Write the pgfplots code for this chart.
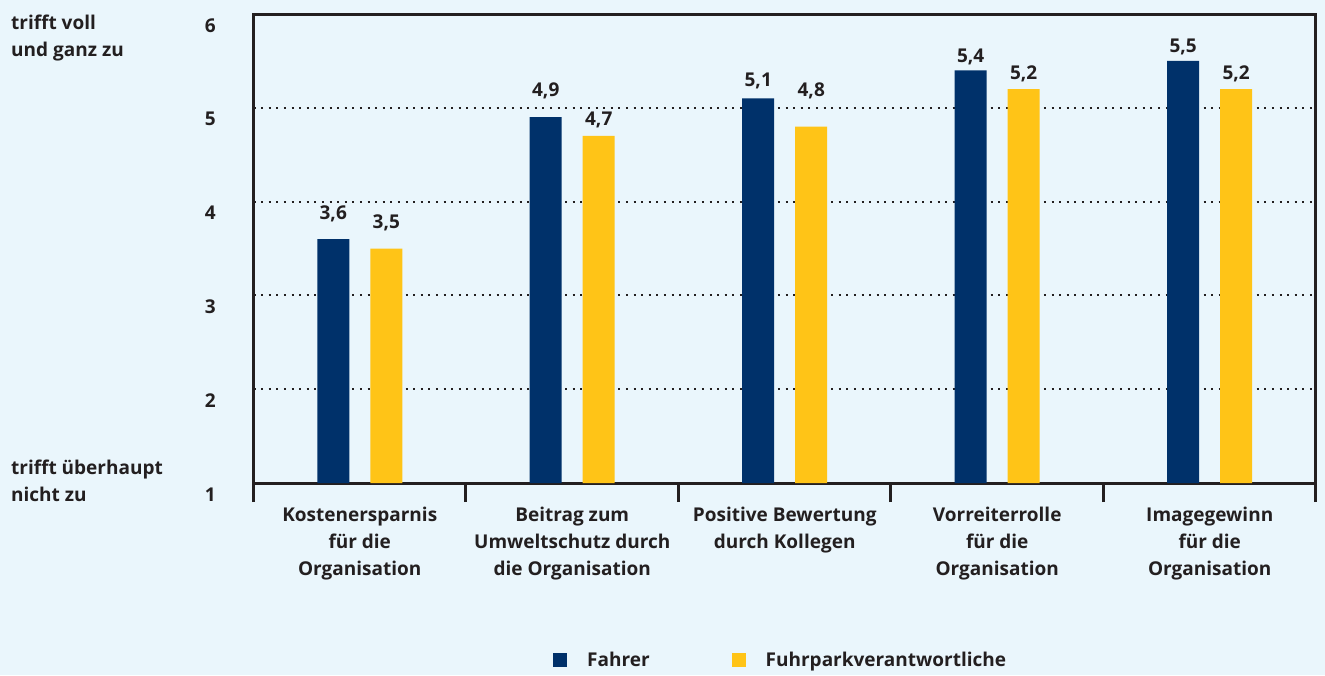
\documentclass[border=0pt]{standalone}
\usepackage{pgfplots}
\usepackage{pgfplotstable}
\pgfplotsset{compat=1.18}
\usepackage{fontspec}
\setmainfont{Open Sans}
\definecolor{bg}{HTML}{EAF6FC}
\definecolor{navy}{HTML}{00316A}
\definecolor{gold}{HTML}{FFC417}
\definecolor{txt}{HTML}{231F20}
\pgfplotstableread{
x y off
0 3.6 20
1 4.9 21
2 5.1 12
3 5.4 8
4 5.5 8
}\fahrer
\pgfplotstableread{
x y off
0 3.5 20
1 4.7 10
2 4.8 30
3 5.2 10
4 5.2 10
}\fuhrpark
\begin{document}
\begin{tikzpicture}[font=\fontsize{19}{27}\selectfont\bfseries]
\fill[bg] (0,0) rectangle (1325pt,675pt);
\node[anchor=base west, inner sep=0pt, text=txt] at (11pt,645pt) {trifft voll};
\node[anchor=base west, inner sep=0pt, text=txt] at (11pt,618pt) {und ganz zu};
\node[anchor=base west, inner sep=0pt, text=txt] at (11pt,200pt) {trifft überhaupt};
\node[anchor=base west, inner sep=0pt, text=txt] at (11pt,173pt) {nicht zu};
\begin{axis}[
  at={(253.5pt,192pt)}, anchor=south west,
  scale only axis, width=1062.5pt, height=469pt,
  xmin=-0.5, xmax=4.5, ymin=1, ymax=6,
  ybar, bar width=32pt,
  axis line style={line width=3pt, color=txt},
  xtick={0,1,2,3,4},
  xticklabels={{Kostenersparnis\\für die\\Organisation},{Beitrag zum\\Umweltschutz durch\\die Organisation},{Positive Bewertung\\durch Kollegen},{Vorreiterrolle\\für die\\Organisation},{Imagegewinn\\für die\\Organisation}},
  minor xtick={-0.5,0.5,1.5,2.5,3.5,4.5},
  xtick pos=bottom, ytick pos=left,
  tick align=outside,
  major tick length=0pt, minor tick length=19pt,
  minor tick style={line width=3pt, color=txt},
  xticklabel style={align=center, anchor=north, inner sep=0pt, yshift=-24pt, text=txt},
  ytick={1,2,3,4,5,6},
  yticklabel style={anchor=base east, inner sep=0pt, xshift=-37.5pt, yshift=-18pt, text=txt},
  /pgf/number format/assume math mode=true,
  ymajorgrids,
  major grid style={line width=2pt, dash pattern=on 2pt off 5.6pt, color=txt},
  legend style={at={(0.2819,-0.3774)}, anchor=west, draw=none, fill=none, inner sep=0pt,
    text=txt, legend columns=2,
    /tikz/every odd column/.append style={column sep=18pt},
    /tikz/every even column/.append style={column sep=80pt}},
  legend image code/.code={\fill[#1] (0pt,-7pt) rectangle (14pt,7pt);},
  nodes near coords={\pgfmathprintnumber[fixed,fixed zerofill,precision=1,use comma,assume math mode=true]{\pgfplotspointmeta}},
  every node near coord/.append style={anchor=base, inner sep=0pt, text=txt, yshift=\off pt},
  visualization depends on={\thisrow{off}\as\off},
]
\addplot[fill=navy, draw=none, bar shift=-26.5pt] table[x=x,y=y]{\fahrer};
\addlegendentry{Fahrer}
\addplot[fill=gold, draw=none, bar shift=26.5pt] table[x=x,y=y]{\fuhrpark};
\addlegendentry{Fuhrparkverantwortliche}
\end{axis}
\end{tikzpicture}
\end{document}
